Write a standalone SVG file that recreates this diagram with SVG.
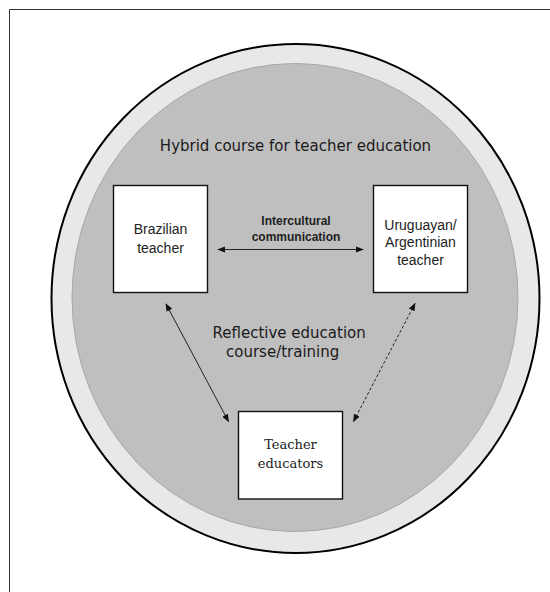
<svg xmlns="http://www.w3.org/2000/svg" width="550" height="592" viewBox="0 0 550 592">
  <style>
    .box { fill: #ffffff; stroke: #111111; stroke-width: 1.4; }
    .sans { font-family: "Liberation Sans", Arial, sans-serif; font-size: 14px; fill: #222222; text-anchor: middle; }
    .bold { font-family: "Liberation Sans", Arial, sans-serif; font-size: 12px; font-weight: bold; fill: #222222; text-anchor: middle; }
    .verd { font-family: "DejaVu Sans", Verdana, sans-serif; font-size: 15px; fill: #1a1a1a; }
    .serif { font-family: "DejaVu Serif", "Liberation Serif", serif; font-size: 13px; fill: #1a1a1a; text-anchor: middle; }
    .link { fill: none; stroke: #222222; stroke-width: 1; marker-start: url(#head); marker-end: url(#head); }
    .dashed { stroke-dasharray: 3 2; }
  </style>
  <defs>
    <marker id="head" viewBox="0 0 10 10" refX="9" refY="5" markerWidth="8" markerHeight="8" markerUnits="userSpaceOnUse" orient="auto-start-reverse">
      <path d="M0,1 L10,5 L0,9 Z" fill="#111111"/>
    </marker>
  </defs>

  <rect width="550" height="592" fill="#ffffff"/>
  <!-- page frame: top and left edges only -->
  <path d="M550,9.5 H9.5 V592" fill="none" stroke="#333333" stroke-width="1"/>

  <!-- course rings -->
  <g id="course">
    <ellipse cx="295.5" cy="298.5" rx="244" ry="254.5" fill="#e8e8e8" stroke="#000000" stroke-width="2"/>
    <ellipse cx="295" cy="297.5" rx="223" ry="234" fill="#bfbfbf" stroke="#a8a8a8" stroke-width="1"/>
    <text class="verd" x="295.5" y="151" text-anchor="middle">Hybrid course for teacher education</text>
    <text class="verd" x="212.5" y="338">Reflective education</text>
    <text class="verd" x="226" y="357">course/training</text>
  </g>

  <g id="connectors">
    <line class="link" x1="218" y1="249.5" x2="363" y2="249.5"/>
    <line class="link" x1="166" y1="304" x2="228.5" y2="421.5"/>
    <line class="link dashed" x1="415" y1="303.5" x2="353.5" y2="421.5"/>
    <text class="bold" x="296" y="225">Intercultural</text>
    <text class="bold" x="296" y="241">communication</text>
  </g>

  <g id="brazilian">
    <rect class="box" x="113.5" y="185.5" width="94" height="107"/>
    <text class="sans" x="160.5" y="234">Brazilian</text>
    <text class="sans" x="160.5" y="253">teacher</text>
  </g>

  <g id="uruguayan">
    <rect class="box" x="373.5" y="185.5" width="94" height="107"/>
    <text class="sans" x="420.5" y="229.5">Uruguayan/</text>
    <text class="sans" x="420.5" y="247">Argentinian</text>
    <text class="sans" x="420.5" y="264.5">teacher</text>
  </g>

  <g id="educators">
    <rect class="box" x="238.5" y="411.5" width="104" height="87.5"/>
    <text class="serif" x="290.5" y="448.5">Teacher</text>
    <text class="serif" x="290.5" y="467.5">educators</text>
  </g>
</svg>
